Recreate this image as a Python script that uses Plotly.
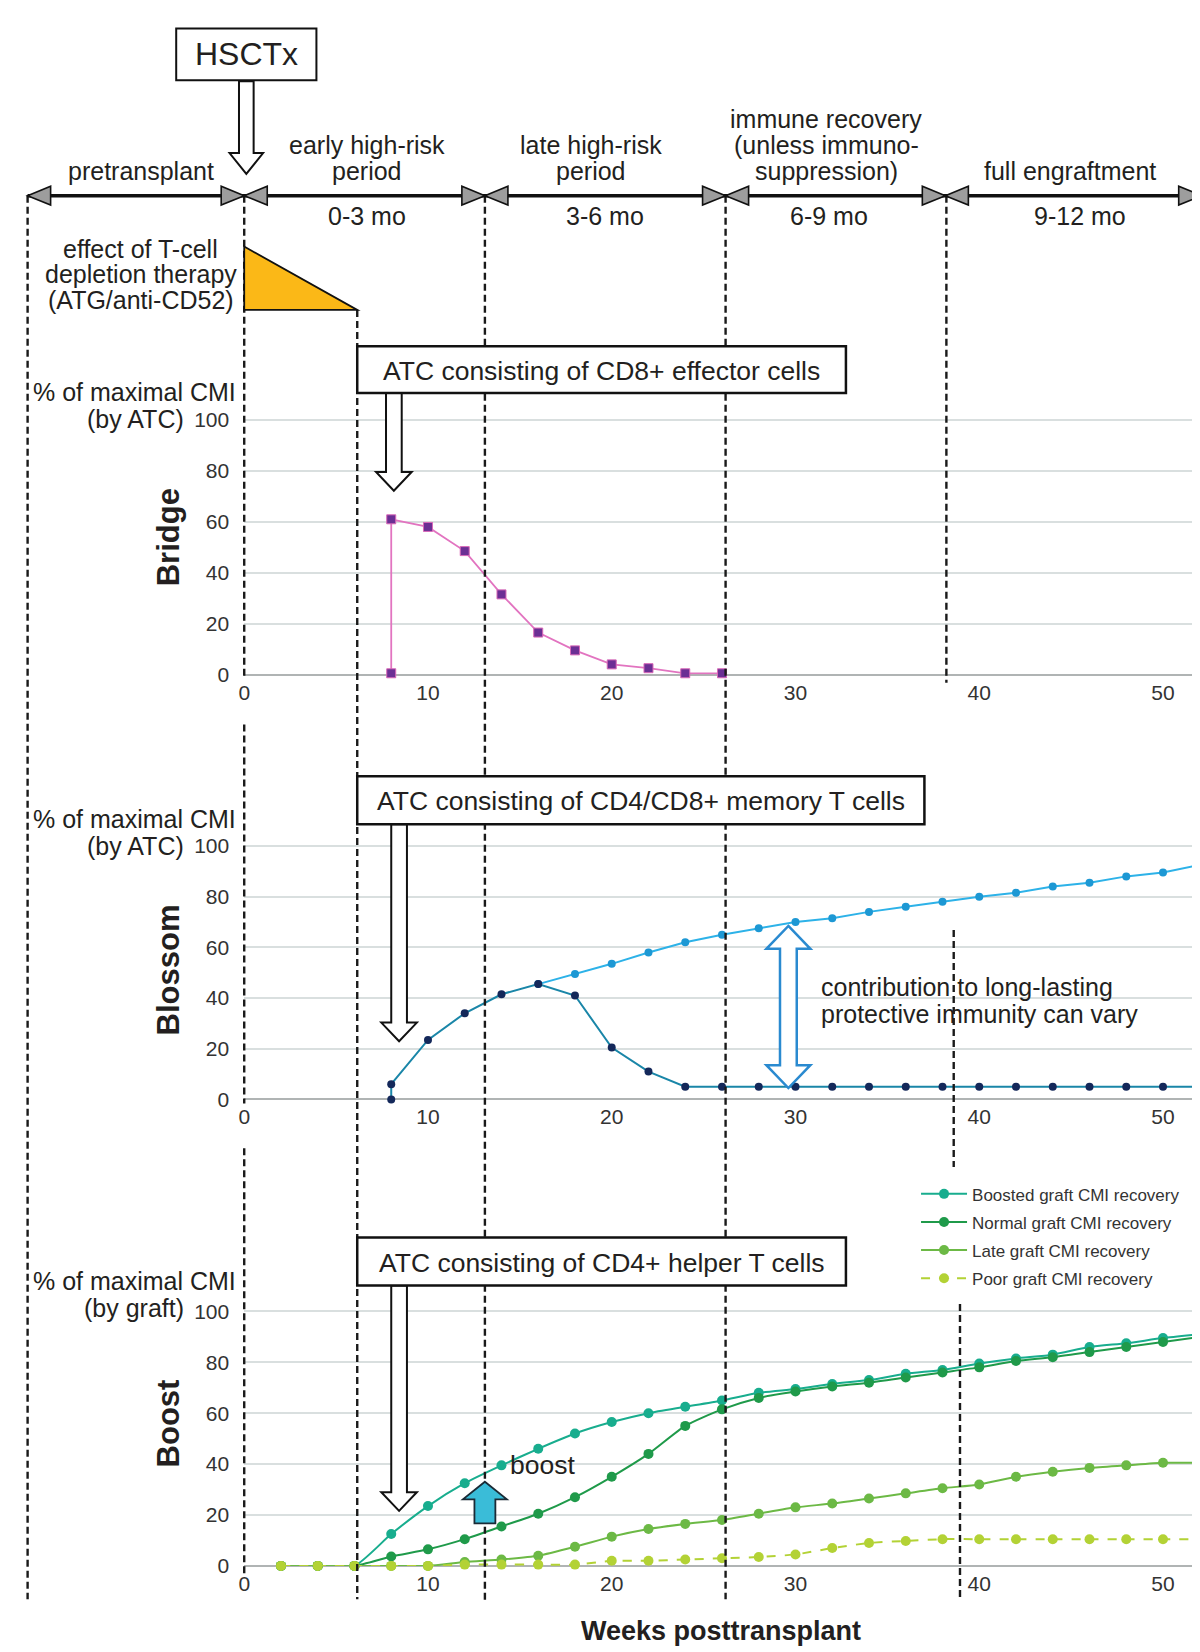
import plotly.graph_objects as go

# ---------------- data ----------------
x_ticks = [0, 10, 20, 30, 40, 50]
y_ticks = [0, 20, 40, 60, 80, 100]

bridge_weeks = [8, 8, 10, 12, 14, 16, 18, 20, 22, 24, 26]
bridge_cmi = [0.5, 61, 58, 48.5, 31.5, 16.5, 9.5, 4, 2.5, 0.5, 0.5]

blossom_dark_weeks = [8, 8, 10, 12, 14, 16, 18, 20, 22, 24, 26, 28, 30, 32, 34, 36,
                      38, 40, 42, 44, 46, 48, 50, 52]
blossom_dark = [0, 6, 23.5, 34, 41.5, 45.5, 41, 20.5, 11, 5, 5, 5, 5, 5, 5, 5,
                5, 5, 5, 5, 5, 5, 5, 5]
blossom_light_weeks = [16, 18, 20, 22, 24, 26, 28, 30, 32, 34, 36, 38, 40, 42, 44,
                       46, 48, 50, 52]
blossom_light = [45.5, 49.5, 53.5, 58, 62, 65, 67.5, 70, 71.5, 74, 76, 78, 80, 81.5,
                 84, 85.5, 88, 89.5, 92.5]

boost_weeks = [2, 4, 6, 8, 10, 12, 14, 16, 18, 20, 22, 24, 26, 28, 30, 32, 34, 36,
               38, 40, 42, 44, 46, 48, 50, 52]
boosted = [0, 0, 0, 12.5, 23.5, 32.5, 39.5, 46, 52, 56.5, 60, 62.5, 65, 68, 69.5,
           71.5, 73, 75.5, 77, 79.5, 81.5, 83, 86, 87.5, 89.5, 91]
normal = [0, 0, 0, 3.7, 6.5, 10.5, 15.5, 20.5, 27, 35, 44, 55, 61.5, 66, 68.5, 70.5,
          72, 74, 76, 78, 80.5, 82, 84, 86, 88, 90]
late = [0, 0, 0, 0, 0, 1.5, 2.5, 4, 7.5, 11.5, 14.5, 16.5, 18, 20.5, 23, 24.5, 26.5,
        28.5, 30.5, 32, 35, 37, 38.5, 39.5, 40.5, 40.5]
poor = [0, 0, 0, 0, 0, 0.5, 0.5, 0.5, 0.5, 2, 2, 2.5, 3, 3.5, 4.5, 7, 9, 9.8, 10.5,
        10.5, 10.5, 10.5, 10.5, 10.5, 10.5, 10.5]

boost_names = ["Boosted graft CMI recovery", "Normal graft CMI recovery",
               "Late graft CMI recovery", "Poor graft CMI recovery"]

period_titles = [["pretransplant"], ["early high-risk", "period"],
                 ["late high-risk", "period"],
                 ["immune recovery", "(unless immuno-", "suppression)"],
                 ["full engraftment"]]
period_ranges = ["0-3 mo", "3-6 mo", "6-9 mo", "9-12 mo"]

# ---------------- layout helpers (reference-pixel frame) ----------------
W, H = 1141.0, 1570.0
FONT = "Liberation Sans, Arial, sans-serif"
TXT = "#231f20"


def px(x):
    return x / W


def py(y):
    return 1 - y / H


def pt(x, y):
    return f"{px(x):.5f},{py(y):.5f}"


def poly(points):
    return "M " + " L ".join(pt(x, y) for x, y in points) + " Z"


shapes = []
annotations = []


def text(s, x, y, size=25, xanchor="center", bold=False, angle=0, color=TXT):
    annotations.append(dict(
        text=f"<b>{s}</b>" if bold else s, x=px(x), y=py(y), xref="paper", yref="paper",
        xanchor=xanchor, yanchor="middle", showarrow=False, textangle=angle,
        font=dict(family=FONT, size=size, color=color)))


def vdash(x, y0, y1, color="#1a1a1a"):
    shapes.append(dict(type="line", xref="paper", yref="paper", x0=px(x), x1=px(x),
                       y0=py(y0), y1=py(y1), layer="above",
                       line=dict(color=color, width=2.4, dash="7px,4px")))


def down_arrow(cx, ytop, yhead, ytip, s=7.5, h=17):
    pts = [(cx - s, ytop), (cx + s, ytop), (cx + s, yhead), (cx + h, yhead), (cx, ytip),
           (cx - h, yhead), (cx - s, yhead)]
    shapes.append(dict(type="path", xref="paper", yref="paper", path=poly(pts),
                       fillcolor="white", layer="above", line=dict(color="#111", width=2)))


RIGHT = 1135

# dashed guide lines
vdash(13, 171, 1522)
vdash(220, 171, 634)
vdash(220, 680, 1045)
vdash(220, 1088, 1500)
vdash(328, 281, 1522)
vdash(450, 171, 1526)
vdash(680, 171, 1522)
vdash(891, 171, 640)
vdash(898, 878, 1106)
vdash(904, 1238, 1522)
vdash(RIGHT + 1, 171, 1540)

# timeline
shapes.append(dict(type="line", xref="paper", yref="paper", x0=px(13), x1=px(RIGHT),
                   y0=py(171), y1=py(171), layer="above", line=dict(color="#111", width=3.5)))
TW, TH = 22, 9
tri_style = dict(fillcolor="#9d9d9d", layer="above", line=dict(color="#111", width=1.6))
shapes.append(dict(type="path", xref="paper", yref="paper",
                   path=poly([(13, 171), (13 + TW, 171 - TH), (13 + TW, 171 + TH)]), **tri_style))
for b in [220, 450, 680, 890]:
    shapes.append(dict(type="path", xref="paper", yref="paper",
                       path=poly([(b, 171), (b - TW, 171 - TH), (b - TW, 171 + TH)]), **tri_style))
    shapes.append(dict(type="path", xref="paper", yref="paper",
                       path=poly([(b, 171), (b + TW, 171 - TH), (b + TW, 171 + TH)]), **tri_style))
shapes.append(dict(type="path", xref="paper", yref="paper",
                   path=poly([(RIGHT, 171), (RIGHT - TW, 171 - TH), (RIGHT - TW, 171 + TH)]),
                   **tri_style))

# period labels
title_centers = [121, 337, 551, 776, 1009]
for lines, cx in zip(period_titles, title_centers):
    n = len(lines)
    for i, ln in enumerate(lines):
        text(ln, cx, 147 - 25 * (n - 1 - i))
for lab, cx in zip(period_ranges, [337, 565, 779, 1019]):
    text(lab, cx, 191)

# HSCTx box + arrow
shapes.append(dict(type="rect", xref="paper", yref="paper", x0=px(155), x1=px(289),
                   y0=py(10), y1=py(60), fillcolor="white", layer="above",
                   line=dict(color="#111", width=2)))
text("HSCTx", 222, 35, size=32)
down_arrow(222, 61, 130, 150, s=7, h=16)

# T-cell depletion triangle
shapes.append(dict(type="path", xref="paper", yref="paper",
                   path=poly([(220, 220), (220, 281), (328, 281)]),
                   fillcolor="#fbb817", layer="above", line=dict(color="#111", width=1.8)))
for i, ln in enumerate(["effect of T-cell", "depletion therapy", "(ATG/anti-CD52)"]):
    text(ln, 121, 222 + 24.5 * i)

# ATC boxes and arrows
atc = [("ATC consisting of CD8+ effector cells", 328, 795, 316, 361, 363, 437, 455),
       ("ATC consisting of CD4/CD8+ memory T cells", 328, 870, 730, 776, 368, 967, 985),
       ("ATC consisting of CD4+ helper T cells", 328, 795, 1174, 1220, 368, 1419, 1437)]
for lab, x0, x1, y0, y1, ax, ah, at in atc:
    down_arrow(ax, y1, ah, at)
    shapes.append(dict(type="rect", xref="paper", yref="paper", x0=px(x0), x1=px(x1),
                       y0=py(y0), y1=py(y1), fillcolor="white", layer="above",
                       line=dict(color="#111", width=2.5)))
    text(lab, (x0 + x1) / 2, (y0 + y1) / 2 + 1, size=26.5)

# y-axis captions and panel names
for top, sub, name, ny in [(360, "(by ATC)", "Bridge", 500),
                            (771, "(by ATC)", "Blossom", 916),
                            (1216, "(by graft)", "Boost", 1353)]:
    text("% of maximal CMI", 214, top, xanchor="right")
    text(sub, 164, top + 26, xanchor="right")
    text(name, 148, ny, size=31, bold=True, angle=-90)

# Blossom double arrow
cx, yt, yb, s, h, hl = 740, 874, 1030, 8, 21, 22
shapes.append(dict(type="path", xref="paper", yref="paper", layer="above",
                   path=poly([(cx, yt), (cx + h, yt + hl), (cx + s, yt + hl), (cx + s, yb - hl),
                              (cx + h, yb - hl), (cx, yb), (cx - h, yb - hl), (cx - s, yb - hl),
                              (cx - s, yt + hl), (cx - h, yt + hl)]),
                   fillcolor="white", line=dict(color="#2a8ad0", width=2.5)))
text("contribution to long-lasting", 769, 933, xanchor="left")
text("protective immunity can vary", 769, 959, xanchor="left")

# Boost arrow
cx, yt, yh, yb, s, h = 450, 1409, 1426, 1449, 10, 21
shapes.append(dict(type="path", xref="paper", yref="paper", layer="above",
                   path=poly([(cx, yt), (cx + h, yh), (cx + s, yh), (cx + s, yb), (cx - s, yb),
                              (cx - s, yh), (cx - h, yh)]),
                   fillcolor="#3abcd8", line=dict(color="#1b2b36", width=1.8)))
text("boost", 472, 1393, size=26.5, xanchor="left")

text("Weeks posttransplant", 676, 1553, size=27, bold=True)

# ---------------- traces ----------------
fig = go.Figure()
fig.add_trace(go.Scatter(x=bridge_weeks, y=bridge_cmi, mode="lines+markers", xaxis="x", yaxis="y",
                         line=dict(color="#e274c0", width=1.8), cliponaxis=False, showlegend=False,
                         marker=dict(symbol="square", size=9, color="#6b2f94",
                                     line=dict(color="#d968b8", width=1))))
fig.add_trace(go.Scatter(x=blossom_light_weeks, y=blossom_light, mode="lines+markers",
                         xaxis="x2", yaxis="y2", cliponaxis=False, showlegend=False,
                         line=dict(color="#2db2e8", width=2),
                         marker=dict(size=8, color="#1d98d4")))
fig.add_trace(go.Scatter(x=blossom_dark_weeks, y=blossom_dark, mode="lines+markers",
                         xaxis="x2", yaxis="y2", cliponaxis=False, showlegend=False,
                         line=dict(color="#1a86a8", width=2),
                         marker=dict(size=8, color="#14285a")))
boost_series = [boosted, normal, late, poor]
boost_colors = ["#18ad8e", "#1f9a4a", "#6cb945", "#b3d235"]
for k, (name, vals, col) in enumerate(zip(boost_names, boost_series, boost_colors)):
    fig.add_trace(go.Scatter(x=boost_weeks, y=vals, mode="lines+markers", name=name,
                             legendgroup=f"g{k}",
                             xaxis="x3", yaxis="y3", cliponaxis=False,
                             line=dict(color=col, width=2, shape="spline", smoothing=0.6,
                                       dash="dash" if name.startswith("Poor") else "solid"),
                             marker=dict(size=10, color=col)))

# ---------------- axes ----------------
X0, X50 = 220, 1098
ppw = (X50 - X0) / 50.0
xmax = (RIGHT - X0) / ppw
panels = [(387, 632), (797, 1041), (1245, 1490)]  # y of 100 and 0
layout_axes = {}
for i, (y100, y0) in enumerate(panels):
    suf = "" if i == 0 else str(i + 1)
    top = 100.6
    ytop_px = y0 - (y0 - y100) * top / 100.0
    layout_axes["xaxis" + suf] = dict(
        domain=[px(X0), px(RIGHT)], range=[0, xmax], anchor="y" + suf,
        tickvals=x_ticks, ticktext=[str(v) for v in x_ticks], showgrid=False,
        zeroline=False, showline=False, ticks="", ticklabelstandoff=3,
        tickfont=dict(family=FONT, size=21, color="#333"))
    layout_axes["yaxis" + suf] = dict(
        domain=[py(y0), py(ytop_px)], range=[0, top], anchor="x" + suf,
        tickvals=y_ticks, ticktext=[str(v) for v in y_ticks], showgrid=True,
        gridcolor="#d9dfdf", gridwidth=2, zeroline=True, zerolinecolor="#b0b4b4",
        zerolinewidth=2, showline=False, ticks="", ticklabelstandoff=14,
        tickfont=dict(family=FONT, size=21, color="#333"))

fig.update_layout(
    width=1200, height=1652, margin=dict(l=0, r=0, t=0, b=0),
    paper_bgcolor="white", plot_bgcolor="white",
    font=dict(family=FONT, color=TXT),
    shapes=shapes, annotations=annotations,
    legend=dict(x=px(862), y=py(1115), xanchor="left", yanchor="top",
                bgcolor="rgba(0,0,0,0)", font=dict(family=FONT, size=17, color="#333"),
                tracegroupgap=3, itemwidth=46),
    **layout_axes)

fig.write_html("out.html")
